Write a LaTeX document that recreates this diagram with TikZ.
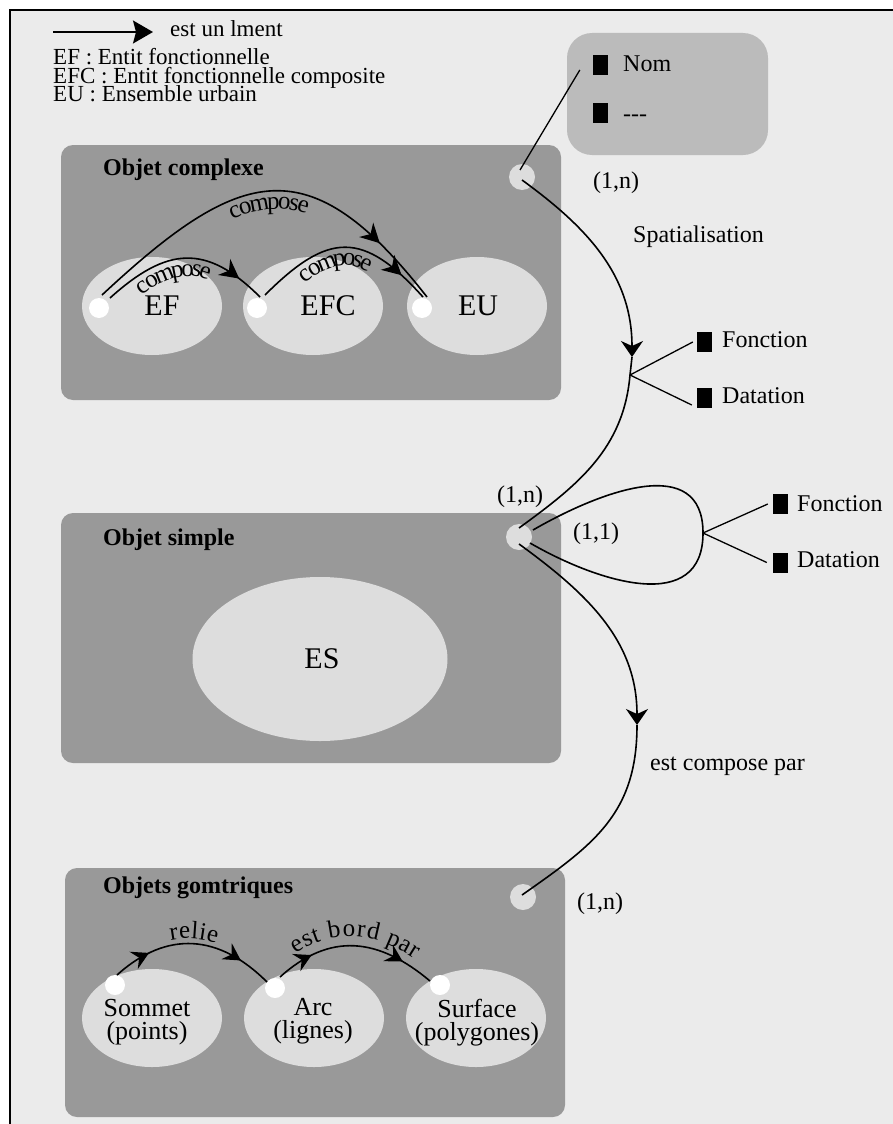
\documentclass[tikz,border=0pt]{standalone}
\usepackage{fontspec}
\setmainfont{Liberation Serif}
\usetikzlibrary{arrows.meta,shapes.geometric,decorations.markings,decorations.text}
\definecolor{fond}{HTML}{EBEBEB}
\definecolor{boite}{HTML}{999999}
\definecolor{bulle}{HTML}{DDDDDD}
\definecolor{attr}{HTML}{BBBBBB}
\tikzset{
  cadre/.style = {fill=boite, rounded corners=12pt, inner sep=0, minimum width=500pt},
  bulle/.style = {ellipse, fill=bulle, inner sep=0, minimum width=140pt, minimum height=98pt},
  pastille/.style = {circle, fill=bulle, inner sep=0, minimum size=26pt},
  point/.style = {circle, fill=white, inner sep=0, minimum size=20pt},
  carre/.style = {fill=black, inner sep=0, minimum width=15pt, minimum height=20pt},
  txt/.style = {inner sep=0, anchor=base west, font=\fontsize{24}{24}\selectfont},
  titre/.style = {txt, font=\fontsize{24}{24}\selectfont\bfseries},
  nom/.style = {inner sep=0, anchor=base, font=\fontsize{30}{30}\selectfont},
  geo/.style = {inner sep=0, align=center, font=\fontsize{26}{23}\selectfont},
  lien/.style = {line width=1.6pt},
  trait/.style = {line width=1.3pt},
  pointe/.style = {-{Stealth[length=16pt,width=22pt,inset=5pt]}},
  fleche/.style = {postaction={decorate, decoration={markings,
      mark=at position #1 with {\arrow{Stealth[length=19pt,width=20pt,inset=6pt]}}}}},
  fleches/.style 2 args = {postaction={decorate, decoration={markings,
      mark=at position #1 with {\arrow{Stealth[length=17pt,width=19pt,inset=6pt]}},
      mark=at position #2 with {\arrow{Stealth[length=17pt,width=19pt,inset=6pt]}}}}},
  etiq/.style n args = {3}{postaction={decorate, decoration={text along path,
      text={|\fontsize{25}{25}\selectfont|#1}, raise=#2, text align={#3}}}}
}
\begin{document}
\begin{tikzpicture}[x=1pt, y=1pt]
\useasboundingbox (0,0) rectangle (893,-1124);
\fill [fond] (10,-10) rectangle (893,-1124);
\draw [line width=2pt] (10,-1124) -- (10,-10) -- (893,-10);

% legende
\coordinate (lga) at (53,-32);
\coordinate (lgb) at (153,-32);
\draw [lien, -{Stealth[length=20pt,width=23pt,inset=3pt]}] (lga) -- (lgb);
\node [txt, font=\fontsize{23}{23}\selectfont] (lgtxt) at (170,-37) {est un lment};
\node [txt, font=\fontsize{23}{23}\selectfont] (lgef) at (53,-65) {EF : Entit fonctionnelle};
\node [txt, font=\fontsize{23}{23}\selectfont] (lgefc) at (53,-83) {EFC : Entit fonctionnelle composite};
\node [txt, font=\fontsize{23}{23}\selectfont] (lgeu) at (53,-101) {EU : Ensemble urbain};

% cadres
\node [cadre, minimum height=255pt] (cplx) at (311,-272.5) {};
\node [cadre, minimum height=250pt] (simple) at (311,-638) {};
\node [cadre, minimum height=249pt] (geom) at (315,-992.5) {};
\node [fill=attr, rounded corners=25pt, inner sep=0, minimum width=201pt, minimum height=122pt] (nombox) at (667.5,-94) {};
\node [titre] (tcplx) at (103,-175) {Objet complexe};
\node [titre] (tsimple) at (103,-545) {Objet simple};
\node [titre] (tgeom) at (103,-893) {Objets gomtriques};

% attributs
\node [carre] (nomsq) at (600.5,-65) {};
\node [carre] (autsq) at (600.5,-113) {};
\node [txt] (nomtxt) at (623,-71) {Nom};
\node [txt] (auttxt) at (623,-121) {-{}-{}-};
\node [carre] (fsqa) at (704.5,-342) {};
\node [carre] (dsqa) at (704.5,-398) {};
\node [txt] (ftxta) at (722,-347) {Fonction};
\node [txt] (dtxta) at (722,-403) {Datation};
\node [carre] (fsqb) at (780.5,-504) {};
\node [carre] (dsqb) at (780.5,-562.5) {};
\node [txt] (ftxtb) at (797,-511) {Fonction};
\node [txt] (dtxtb) at (797,-567) {Datation};

% objet complexe
\node [bulle] (ef) at (152,-306) {};
\node [bulle] (efc) at (313,-306) {};
\node [bulle] (eu) at (477,-306) {};
\node [nom] (efnom) at (162,-315) {EF};
\node [nom] (efcnom) at (328,-315) {EFC};
\node [nom] (eunom) at (478,-315) {EU};
\node [point] (efdot) at (99,-308) {};
\node [point] (efcdot) at (257,-308) {};
\node [point] (eudot) at (422,-308) {};
\draw [lien, fleche=0.82, etiq={compose}{-18pt}{align=center}]
  ([shift={(3,13)}]efdot.center) to[out=43, in=128, looseness=1.5] ([shift={(5,11)}]eudot.center);
\draw [lien, fleche=0.84, etiq={compose}{-18pt}{align=center, right indent=30pt}]
  ([shift={(11,10)}]efdot.center) to[out=42, in=135, looseness=1.3] ([shift={(3,11)}]efcdot.center);
\draw [lien, fleche=0.84, etiq={compose}{-18pt}{align=center, right indent=24pt}]
  ([shift={(8,13)}]efcdot.center) to[out=45, in=132, looseness=1.45] ([shift={(1,11)}]eudot.center);

% objet simple
\node [bulle, minimum width=255pt, minimum height=164pt] (es) at (320,-659) {};
\node [nom] (esnom) at (322,-668) {ES};

% objets geometriques
\node [bulle] (som) at (152,-1018) {};
\node [bulle] (arc) at (314,-1018) {};
\node [bulle] (surf) at (476,-1018) {};
\node [geo] (somtxt) at (147,-1022) {Sommet\\(points)};
\node [geo] (arctxt) at (313,-1021) {Arc\\(lignes)};
\node [geo] (surftxt) at (477,-1023) {Surface\\(polygones)};
\node [point] (somdot) at (115,-985) {};
\node [point] (arcdot) at (275,-988) {};
\node [point] (surfdot) at (440,-985) {};
\draw [lien, fleches={0.23}{0.8}, etiq={relie}{5pt}{align=center}]
  ([shift={(2,10)}]somdot.center) to[out=42, in=135, looseness=1.15] ([shift={(-8,6)}]arcdot.center);
\draw [lien, fleches={0.23}{0.8}, etiq={est bord par}{9pt}{align=center}]
  ([shift={(5,11)}]arcdot.center) to[out=42, in=140, looseness=1.15] ([shift={(-10,4)}]surfdot.center);

% pastilles et liens
\node [pastille] (cdot) at (522,-177) {};
\node [pastille] (sdot) at (519,-537) {};
\node [pastille] (gdot) at (523,-897) {};
\coordinate (sparr) at (632,-357);
\coordinate (spj) at (630,-375);
\coordinate (boucle) at (703,-533);
\coordinate (ecarr) at (637,-725);
\draw [trait] ([shift={(-2,7)}]cdot.center) -- ([shift={(-13,-5)}]nomsq.west);
\draw [lien, pointe] ([shift={(0,-3)}]cdot.center) to[out=-36, in=90] (sparr);
\draw [lien] (sparr) -- (spj) to[out=-95, in=36] ([shift={(0,9)}]sdot.center);
\draw [trait] (spj) -- ([xshift=-4pt]fsqa.west);
\draw [trait] (spj) -- ([shift={(-5,-7)}]dsqa.west);
\draw [lien] ([shift={(14,7)}]sdot.center) to[out=30, in=90, looseness=1.2] (boucle)
  to[out=-90, in=-30, looseness=1.2] ([shift={(11,-6)}]sdot.center);
\draw [trait] (boucle) -- ([xshift=-5pt]fsqb.west);
\draw [trait] (boucle) -- ([xshift=-6pt]dsqb.west);
\draw [lien, pointe] ([shift={(0,-7)}]sdot.center) to[out=-36, in=90] (ecarr);
\draw [lien] (ecarr) to[out=-90, in=35, looseness=1.1] ([shift={(-1,2)}]gdot.center);

% cardinalites
\node [txt] (carda) at (593,-188) {(1,n)};
\node [txt] (spat) at (633,-242) {Spatialisation};
\node [txt] (cardb) at (497,-502) {(1,n)};
\node [txt] (cardc) at (573,-539) {(1,1)};
\node [txt] (ecp) at (650,-770) {est compose par};
\node [txt] (cardd) at (577,-909) {(1,n)};
\end{tikzpicture}
\end{document}
